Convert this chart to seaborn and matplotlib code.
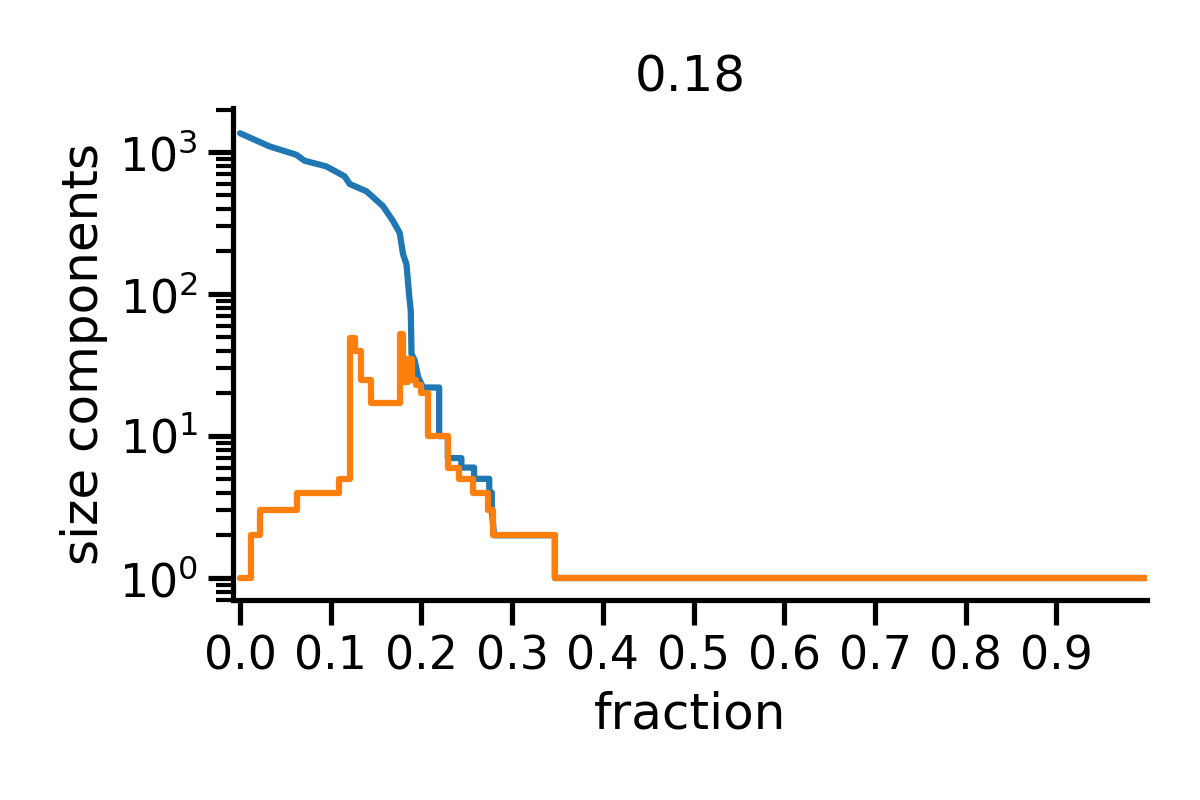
import numpy as np
import pandas as pd
import matplotlib
matplotlib.use("Agg")
import matplotlib.pyplot as plt
import seaborn as sns

# Largest component (blue)
blue_x = [0.0, 0.0326, 0.062, 0.0712, 0.0951, 0.1153, 0.1209, 0.1393, 0.1576,
          0.1687, 0.176, 0.1797, 0.1834, 0.1863, 0.1882, 0.189, 0.1926, 0.1963,
          0.2018, 0.2195, 0.2195, 0.229, 0.229, 0.244, 0.244, 0.258, 0.258,
          0.2747, 0.2747, 0.2775, 0.2775, 0.280, 0.347, 0.347, 0.999]
blue_y = [1361, 1099, 960, 871, 795, 676, 597, 531, 417,
          327, 270, 191, 163, 100, 76, 38, 34, 26,
          22, 22, 10, 10, 7, 7, 6, 6, 5,
          5, 4, 4, 3, 2, 2, 1, 1]

# Second largest component (orange), step breakpoints
orange_x = [0.0, 0.0124, 0.0223, 0.0627, 0.1087, 0.1209, 0.1265, 0.1338, 0.1448,
            0.176, 0.1797, 0.1852, 0.189, 0.1945, 0.200, 0.2073, 0.229, 0.2415,
            0.257, 0.2735, 0.279, 0.347, 0.999]
orange_y = [1, 2, 3, 4, 5, 49, 40, 25, 17,
            52, 24, 35, 25, 23, 20, 10, 6, 5,
            4, 3, 2, 1, 1]

title_text = "0.18"
x_label = "fraction"
y_label = "size components"

sns.set_theme(context="talk", style="ticks")
plt.rcParams['font.family'] = ['DejaVu Sans']
for k in ["text.color", "axes.labelcolor", "xtick.color", "ytick.color", "axes.edgecolor"]:
    plt.rcParams[k] = "black"

fig = plt.figure(figsize=(6, 4), dpi=200)
ax = fig.add_axes([0.194, 0.25, 0.762, 0.615])

df_b = pd.DataFrame({"x": blue_x, "y": blue_y})
df_o = pd.DataFrame({"x": orange_x, "y": orange_y})

sns.lineplot(data=df_b, x="x", y="y", estimator=None, sort=False, ax=ax,
             color="#1f77b4", lw=2.25)
sns.lineplot(data=df_o, x="x", y="y", estimator=None, sort=False, ax=ax,
             color="#ff7f0e", lw=2.25, drawstyle="steps-post")

ax.set_yscale("log")
ax.set_ylim(0.7, 2050)
ax.set_xlim(-0.008, 1.0)
ax.set_xticks(np.arange(0, 1, 0.1))
ax.set_xticklabels([f"{v:.1f}" for v in np.arange(0, 1, 0.1)])
ax.set_xlabel(x_label)
ax.set_ylabel(y_label)
ax.set_title(title_text)
sns.despine(ax=ax)

fig.savefig("out.png", dpi=200)
